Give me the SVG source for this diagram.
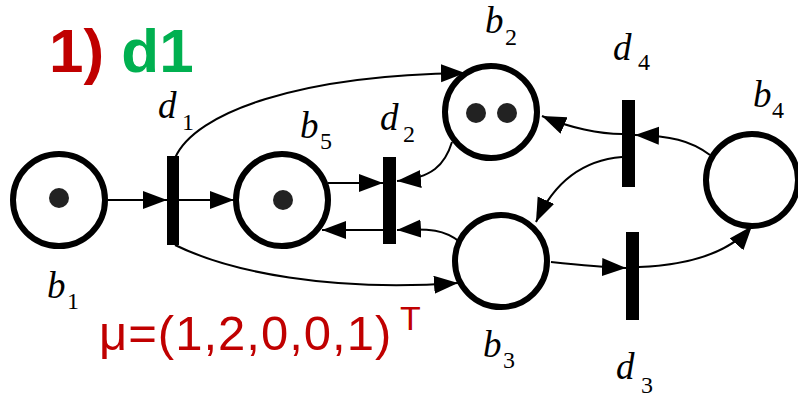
<svg xmlns="http://www.w3.org/2000/svg" width="798" height="397" viewBox="0 0 798 397">
<style>
.place{fill:none;stroke:#000;stroke-width:6}
.token{fill:#222}
.bar{fill:#000}
.arc{fill:none;stroke:#000;stroke-width:2}
.lbl{font-family:"Liberation Serif",serif;font-style:italic;font-size:37px;fill:#000}
.sub{font-family:"Liberation Serif",serif;font-style:normal;font-size:24px;fill:#000}
</style>
<defs>
<marker id="ah" markerUnits="userSpaceOnUse" markerWidth="26" markerHeight="20" refX="24" refY="9" orient="auto">
<path d="M0,0 L24,9 L0,18 z" fill="#000"/>
</marker>
</defs>
<rect width="798" height="397" fill="#fff"/>
<g id="title">
<text x="49" y="72" font-family="Liberation Sans,Arial,sans-serif" font-weight="bold" font-size="62" fill="#c00000">1) <tspan fill="#00b050">d1</tspan></text>
</g>
<g id="marking">
<text x="99" y="350" font-family="Liberation Sans,Arial,sans-serif" font-size="49" letter-spacing="1" fill="#c00000">μ=(1,2,0,0,1)</text>
<text x="400" y="330" font-family="Liberation Sans,Arial,sans-serif" font-size="34" fill="#c00000">T</text>
</g>
<g id="connectors">
<path class="arc" d="M108,200 L167,200" marker-end="url(#ah)"/>
<path class="arc" d="M179,200 L234,200" marker-end="url(#ah)"/>
<path class="arc" d="M175,158 C195,112 300,75 465,73" marker-end="url(#ah)"/>
<path class="arc" d="M175,245 C230,272 330,292 458,283" marker-end="url(#ah)"/>
<path class="arc" d="M328,183 L383,183" marker-end="url(#ah)"/>
<path class="arc" d="M383,230 L322,230" marker-end="url(#ah)"/>
<path class="arc" d="M452,142 C445,165 432,178 397,181" marker-end="url(#ah)"/>
<path class="arc" d="M460,242 C445,230 430,228 397,230" marker-end="url(#ah)"/>
<path class="arc" d="M622,134 C600,134 570,128 542,116" marker-end="url(#ah)"/>
<path class="arc" d="M710,155 C690,140 670,136 635,135" marker-end="url(#ah)"/>
<path class="arc" d="M622,157 C585,160 555,180 536,222" marker-end="url(#ah)"/>
<path class="arc" d="M551,262 C580,265 600,267 626,268" marker-end="url(#ah)"/>
<path class="arc" d="M639,267 C690,265 730,252 752,226" marker-end="url(#ah)"/>
</g>
<g id="b1"><circle class="place" cx="59" cy="200" r="46"/><circle class="token" cx="59" cy="198" r="10"/>
<text class="lbl" x="47" y="298">b</text><text class="sub" x="67" y="309">1</text></g>
<g id="b5"><circle class="place" cx="282" cy="200" r="46"/><circle class="token" cx="283" cy="200" r="10"/>
<text class="lbl" x="300" y="138">b</text><text class="sub" x="320" y="149">5</text></g>
<g id="b2"><circle class="place" cx="491" cy="112" r="46"/><circle class="token" cx="476" cy="113" r="10"/><circle class="token" cx="507" cy="113" r="10"/>
<text class="lbl" x="485" y="33">b</text><text class="sub" x="505" y="45">2</text></g>
<g id="b3"><circle class="place" cx="501" cy="261" r="46"/>
<text class="lbl" x="483" y="357">b</text><text class="sub" x="503" y="368">3</text></g>
<g id="b4"><circle class="place" cx="752" cy="180" r="46"/>
<text class="lbl" x="753" y="107">b</text><text class="sub" x="772" y="118">4</text></g>
<g id="d1"><rect class="bar" x="167" y="156" width="12" height="89"/>
<text class="lbl" x="158" y="118">d</text><text class="sub" x="182" y="130">1</text></g>
<g id="d2"><rect class="bar" x="383" y="157" width="13" height="87"/>
<text class="lbl" x="380" y="130">d</text><text class="sub" x="403" y="142">2</text></g>
<g id="d4"><rect class="bar" x="622" y="100" width="13" height="87"/>
<text class="lbl" x="613" y="60">d</text><text class="sub" x="638" y="70">4</text></g>
<g id="d3"><rect class="bar" x="626" y="232" width="13" height="88"/>
<text class="lbl" x="616" y="379">d</text><text class="sub" x="641" y="393">3</text></g>
</svg>
